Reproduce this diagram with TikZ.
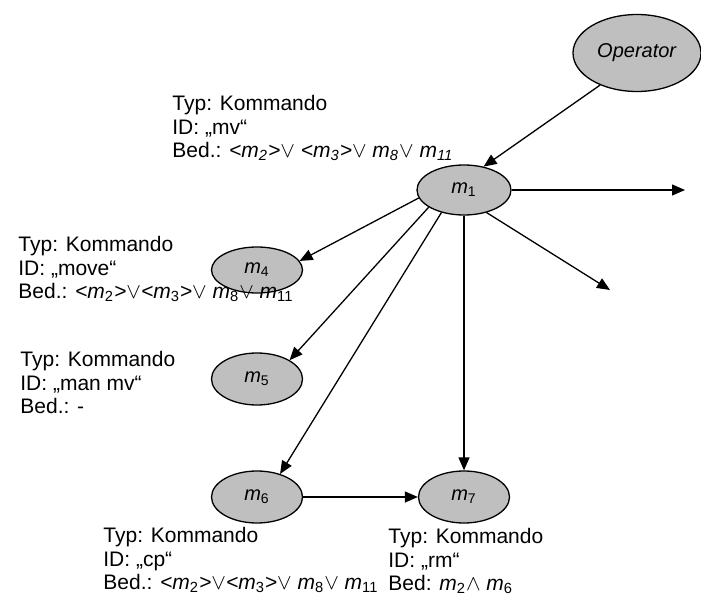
\documentclass[tikz,border=0pt]{standalone}
\usepackage{fontspec}
\setmainfont{Liberation Sans}
\usetikzlibrary{shapes.geometric, arrows.meta}
\definecolor{node-gray}{gray}{0.75}
\newcommand{\msub}[1]{\textit{m}\textsubscript{#1}}

\begin{document}
\begin{tikzpicture}[x=0.5pt, y=-0.5pt,
    msg/.style={ellipse, draw, line width=0.65pt, fill=node-gray, inner sep=0pt,
        minimum width=45.5pt, minimum height=26pt},
    flow/.style={-{Triangle[length=6.5pt,width=5.5pt]}, line width=0.65pt},
    info/.style={anchor=north west, inner sep=0pt, align=left,
        font=\fontsize{10.5}{11.75}\selectfont}]
        \useasboundingbox (0, 0) rectangle (701, 599);
        % Operator ellipse
        \node [msg, minimum width=64pt, minimum height=38.5pt] (operator) at (637, 53) {\textit{Operator}};
        % Message nodes
        \node [msg, minimum width=47pt, minimum height=25pt] (m1) at (464, 190) {\msub{1}};
        \node [msg, minimum height=23pt] (m4) at (257, 270) {\msub{4}};
        \node [msg] (m5) at (257, 379) {\msub{5}};
        \node [msg] (m6) at (257, 497) {\msub{6}};
        \node [msg] (m7) at (464, 497) {\msub{7}};
        % Open ends on the right
        \coordinate (out1) at (685, 190);
        \coordinate (out2) at (610, 290);
        % Operator to m1
        \draw [flow] (operator.221) -- (m1.50);
        % m1 outgoing arrows
        \draw [flow] (m1.east) -- (out1);
        \draw [flow] (m1.-45) -- (out2);
        \draw [flow] (m1.190) -- (m4.12);
        \draw [flow] (m1.206) -- (m5.30);
        \draw [flow] (m1.225) -- (m6.45);
        \draw [flow] (m1.south) -- (m7.north);
        % m6 to m7
        \draw [flow] (m6.east) -- (m7.west);
        % m1 label
        \node [info] (info1) at (172, 95) {Typ: Kommando\\ID: „mv“\\Bed.: \textit{<m\textsubscript{2}>}$\vee$ \textit{<m\textsubscript{3}>}$\vee$ \textit{m\textsubscript{8}}$\vee$ \textit{m\textsubscript{11}}};
        % m4 label
        \node [info] (info4) at (18, 236) {Typ: Kommando\\ID: „move“\\Bed.: \textit{<}\msub{2}\textit{>}$\vee$\textit{<}\msub{3}\textit{>}$\vee$ \msub{8}$\vee$ \msub{11}};
        % m5 label
        \node [info] (info5) at (20, 351) {Typ: Kommando\\ID: „man mv“\\Bed.: -};
        % m6 label
        \node [info] (info6) at (103, 527) {Typ: Kommando\\ID: „cp“\\Bed.: \textit{<}\msub{2}\textit{>}$\vee$\textit{<}\msub{3}\textit{>}$\vee$ \msub{8}$\vee$ \msub{11}};
        % m7 label
        \node [info] (info7) at (388, 528) {Typ: Kommando\\ID: „rm“\\Bed: \msub{2}$\wedge$ \msub{6}};
\end{tikzpicture}
\end{document}
